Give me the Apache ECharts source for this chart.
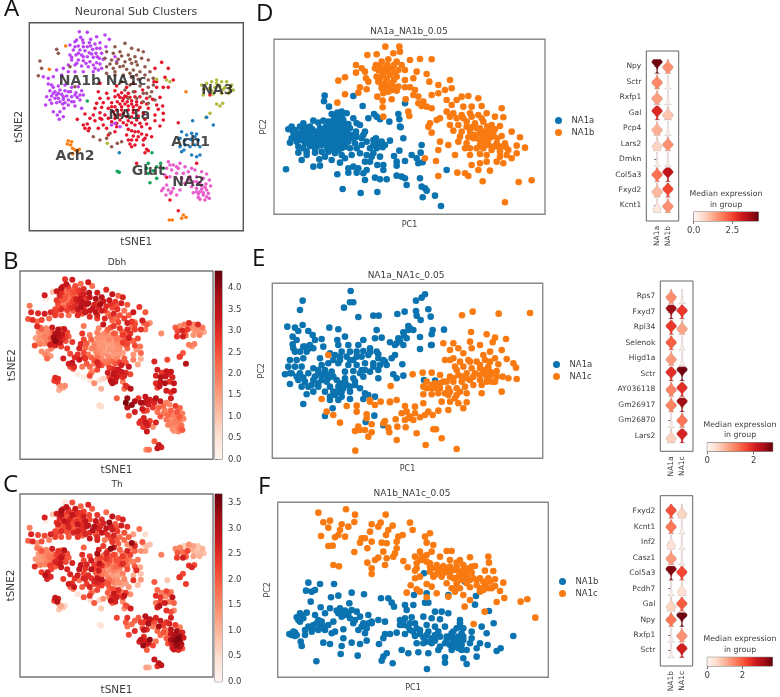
<!DOCTYPE html>
<html><head><meta charset="utf-8">
<style>html,body{margin:0;padding:0;background:#fff}#main{width:780px;height:697px;filter:blur(0.5px)}</style>
<script src="https://cdn.jsdelivr.net/npm/echarts@6/dist/echarts.min.js"></script>
</head><body><div id="main"></div>
<script>
// tSNE embedding shared by panels A, B, C: [tSNE1, tSNE2, Dbh, Th]
const na1b=[[238,95,2.9,.3],[262,97,3.2,2.1],[290,110,2.2,1.9],[315,105,3.3,2.6],[242,112,3.4,2.9],[272,118,2.6,2.8],[300,128,3.0,2.3],[328,118,2.1,2.0],[225,125,3.5,3.2],[250,128,2.4,2.5],[285,132,2.8,2.4],[210,135,3.3,2.7],[235,138,2.2,2.2],[262,140,2.5,2.9],[278,148,2.0,2.0],[300,145,3.2,2.7],[318,140,3.6,2.2],[220,150,3.0,2.6],[240,150,2.4,1.9],[255,152,2.1,2.6],[268,158,2.6,1.7],[288,160,3.4,2.3],[305,160,2.8,2.8],[210,165,2.8,2.4],[228,165,2.3,2.0],[245,165,2.0,2.7],[262,170,2.7,2.1],[280,172,3.1,2.9],[298,175,3.5,2.5],[215,180,2.5,1.8],[235,180,1.9,2.2],[250,182,2.6,2.6],[270,185,3.0,2.0],[290,188,3.6,2.4],[310,178,3.2,2.7],[345,170,2.4,2.3],[350,185,3.1,2.6],[205,195,2.6,2.2],[225,195,3.0,2.5],[245,198,2.7,2.1],[265,200,2.4,2.6],[285,205,2.9,2.2],[305,205,3.3,2.6],[190,205,3.0,2.6],[170,210,3.2,2.2],[185,225,2.2,1.6],[205,215,2.8,2.3],[225,215,2.5,2.1],[250,215,2.1,2.0],[280,215,3.0,2.4],[295,210,2.4,1.8],[145,252,3.0,1.7],[160,262,2.2,2.0],[175,258,1.8,1.5],[195,255,3.2,2.7],[215,262,3.6,2.4],[235,260,3.3,3.0],[150,272,1.6,1.3],[165,275,1.5,1.4],[180,270,1.8,1.6],[195,272,2.2,1.5],[212,275,3.7,2.3],[228,278,3.4,2.6],[245,272,2.6,2.1],[140,290,1.4,1.3],[155,288,1.7,1.2],[170,285,1.9,1.4],[185,283,1.6,1.7],[200,288,3.9,1.8],[215,290,3.5,2.5],[232,292,2.9,2.2],[250,285,2.3,2.0],[175,295,1.8,1.5],[190,298,2.0,1.6],[205,300,4.0,2.6],[222,305,3.3,2.8],[240,300,2.5,2.2],[137,315,2.6,2.5],[155,310,1.9,1.6],[170,308,1.7,1.5],[188,312,3.2,2.3],[205,315,3.1,2.0],[225,318,2.7,2.8],[180,335,1.6,2.7],[172,345,1.8,3.0],[190,350,1.5,2.6],[178,358,2.2,2.6],[160,335,1.7,2.3],[192,325,1.9,2.2],[245,325,2.8,2.6],[130,230,2.9,2.5],[160,230,2.6,2.1],[145,235,2.2,1.4],[360,380,2.5,2.3],[335,375,2.0,2.2],[345,370,3.1,2.6],
[230,120,3.1,2.7],[248,120,2.7,2.4],[268,128,2.3,2.2],[225,140,2.9,3.0],[250,140,2.2,1.8],[272,138,2.6,2.5],[290,145,3.0,2.2],[235,160,2.5,2.8],[250,170,2.1,2.2],[275,162,3.2,2.4],[292,170,3.3,2.0],[215,172,2.6,2.6],[230,190,2.4,2.1],[258,190,2.9,1.9],[280,195,3.3,2.7],[300,192,3.0,2.5],[160,280,1.6,1.3],[175,280,1.7,1.5],[190,290,2.3,1.4],[205,275,3.5,1.9],[165,295,1.5,1.2],[180,305,1.9,1.6],[195,308,3.0,2.0],[150,300,1.6,1.3],[225,285,3.2,2.9],[240,285,2.7,1.8],[215,305,3.4,2.5],[155,255,2.3,1.5]];
const na1c=[[345,140,3.2,2.4],[375,130,3.0,1.8],[395,145,3.4,2.9],[415,150,2.3,2.2],[430,155,3.1,2.6],[320,155,3.4,2.1],[340,160,3.7,2.8],[360,155,3.5,2.5],[385,165,3.3,3.3],[405,170,2.8,2.0],[425,175,3.2,2.7],[445,180,2.4,2.4],[315,175,3.6,2.9],[335,180,3.1,3.1],[355,178,3.8,2.4],[375,185,3.0,2.9],[395,190,2.6,2.7],[412,195,2.9,2.3],[435,200,2.1,2.1],[320,200,3.3,2.5],[340,205,3.5,2.1],[360,200,3.2,2.8],[380,208,2.2,2.4],[400,210,3.1,2.6],[420,215,2.5,1.8],[450,215,2.3,1.9],[320,220,3.0,2.8],[345,225,2.7,2.6],[370,225,3.0,1.7],[395,232,2.2,2.4],[415,238,2.6,2.0],[445,240,3.2,1.5],[460,235,2.8,3.3],[365,245,3.4,2.3],[390,255,2.5,3.4],[420,258,2.8,1.9],[445,262,3.0,2.6],[460,255,2.1,1.6],[375,270,1.9,2.6],[400,275,2.4,2.2],[430,280,2.8,2.3],[450,290,3.2,1.7],[465,300,2.3,1.6],[410,295,2.0,2.1],[430,305,2.7,2.5],[445,310,2.6,1.6],[385,295,1.8,2.1],[120,183,2.0,1.6],[175,160,.3,.2],[170,148,3.2,2.6],[115,227,2.4,1.9],[125,205,3.0,2.6],[225,260,2.1,1.6],[330,400,1.6,1.4],[320,415,2.6,2.4],[300,420,.3,2.0],[335,440,1.7,2.0],[352,430,.5,.6],[280,410,.3,.4],[365,425,.8,1.4],[210,200,2.7,2.2],
[365,168,3.3,2.6],[350,190,3.0,2.2],[370,198,2.8,2.4],[390,178,2.9,2.7],[408,185,2.4,2.1],[330,192,3.4,3.0],[345,215,3.1,2.5],[390,220,2.5,2.2],[410,225,2.2,2.0],[435,225,2.7,1.8],[455,275,2.9,2.2],[440,280,2.4,1.7]];
const na1a=[[485,187,2.8,1.8],[465,205,3.3,1.2],[505,205,2.4,.5],[495,232,3.2,2.0],[520,240,1.6,.8],[470,245,2.6,2.5],[300,250,2.0,1.9],[350,258,1.8,2.6],[380,262,2.3,2.2],[400,250,2.8,3.0],[295,275,2.8,2.5],[320,280,2.0,2.3],[345,272,1.9,3.2],[365,278,1.7,1.6],[385,280,1.6,2.1],[405,275,2.1,1.8],[428,270,2.3,1.5],[470,262,2.7,1.9],[490,262,2.9,1.4],[505,262,2.0,1.2],[300,295,2.6,2.2],[325,295,2.3,2.7],[345,290,1.7,2.0],[360,292,1.6,1.7],[375,288,1.5,2.4],[390,292,1.4,1.5],[405,290,1.8,1.8],[420,290,2.0,2.1],[440,295,2.5,1.9],[458,298,2.2,1.2],[480,292,2.6,1.7],[290,310,3.0,2.8],[310,308,2.4,2.6],[335,308,1.8,2.3],[352,305,1.6,2.9],[368,302,1.5,1.6],[382,305,1.5,1.9],[395,302,1.4,1.4],[410,305,1.7,1.7],[425,308,1.8,2.3],[440,312,2.4,1.8],[470,315,2.6,2.0],[488,318,2.0,1.1],[285,325,3.1,2.9],[305,322,2.2,2.4],[325,325,1.8,3.0],[345,320,1.5,2.3],[365,320,1.6,1.4],[385,318,1.4,1.3],[400,320,1.5,1.7],[420,322,1.7,1.5],[445,325,2.2,2.1],[475,328,1.6,2.5],[280,345,2.9,2.7],[300,338,2.6,2.2],[315,345,2.0,2.5],[340,335,1.7,2.0],[370,340,1.5,1.5],[400,338,1.6,1.2],[430,340,1.5,1.6],[465,345,1.6,1.0],[490,340,2.2,.8],[285,362,3.3,1.7],[305,358,2.9,2.5],[335,365,2.4,2.6],[360,360,1.7,2.9],[385,362,1.9,1.8],[410,360,1.8,1.4],[435,358,2.3,1.5],[465,362,1.9,2.4],[490,360,1.2,1.3],[380,375,2.1,2.1],[405,375,2.4,1.3],[250,375,3.2,2.7],[262,372,3.4,2.4],[255,385,2.6,1.8],[268,385,3.0,2.8],[265,392,2.5,1.5],[320,385,2.2,2.6],[350,380,3.0,2.2],[425,380,3.2,1.1],[450,385,3.4,1.3],[480,378,1.4,.9],[395,392,2.9,2.1],[415,395,3.3,2.5],[535,368,3.1,2.0],[325,405,2.0,1.9],[380,405,3.2,2.0],[400,408,3.5,2.8],[425,402,3.3,1.7],[440,405,3.0,2.3],[455,410,2.6,1.4],[410,420,3.3,2.7],[385,420,2.4,1.5],[435,415,3.1,2.9],[390,432,3.5,2.9],[405,435,3.3,2.6],[395,440,3.6,1.8],[430,435,2.0,1.5],[440,448,2.9,2.1],[435,458,2.1,1.4],[445,452,2.6,1.8],[350,370,2.3,2.4],[232,358,3.2,2.3],[255,342,2.6,2.6],[510,600,3.3,2.0],[535,632,2.3,2.8],[590,490,3.2,2.7],[500,532,2.7,2.9],[630,285,3.2,2.7],[462,245,2.0,1.2],[410,490,2.3,2.2],
[355,285,1.7,2.2],[370,295,1.5,1.8],[380,290,1.6,1.5],[395,312,1.5,1.6],[410,315,1.6,1.9],[360,312,1.6,2.5],[375,312,1.4,1.7],[350,330,1.7,2.7],[365,330,1.5,1.6],[385,330,1.6,1.4],[400,330,1.4,1.5],[415,330,1.7,1.3],[335,320,1.9,2.3],[345,345,1.8,1.9],[360,345,1.6,1.7],[380,350,1.7,1.5],[395,350,1.5,1.3],[415,348,1.6,1.2],[325,355,2.3,2.4],[345,355,2.1,2.8],[370,368,2.0,2.1],[395,368,2.2,1.6],[300,355,2.8,2.6],[270,355,3.0,2.4],[420,370,2.7,1.4],[440,372,2.5,1.2],[345,395,2.6,2.2],[395,420,3.1,2.5],[415,410,3.0,2.2],[385,388,2.7,1.9],[405,395,3.1,1.8],[430,420,2.9,2.4],[310,375,2.4,2.3],[295,385,2.0,2.0]];
const na2=[[505,485,3.4,3.0],[520,495,3.2,2.9],[540,490,3.6,2.6],[500,505,3.5,2.3],[515,510,3.2,3.1],[535,505,3.0,2.0],[555,500,3.4,2.8],[575,505,1.9,2.4],[495,525,3.3,2.0],[510,530,2.7,2.5],[530,520,2.8,1.7],[550,520,2.3,3.2],[565,515,2.2,2.3],[585,510,1.8,2.6],[605,515,2.7,2.3],[620,522,2.2,1.6],[545,535,2.1,1.9],[570,530,1.9,1.8],[590,530,2.3,2.9],[610,535,2.5,3.2],[628,540,2.0,2.6],[580,545,2.2,1.7],[600,548,1.9,3.0],[618,552,2.4,3.3],[632,558,1.8,2.7],[490,565,3.0,2.9],[505,570,3.3,2.7],[520,565,2.7,3.4],[540,570,3.1,1.7],[575,560,2.1,2.0],[590,565,1.7,3.1],[605,568,1.9,3.4],[620,570,1.6,3.2],[485,572,2.9,2.6],[498,585,2.8,3.3],[512,580,3.2,2.3],[530,585,1.7,2.2],[580,578,1.8,2.0],[595,582,1.6,2.6],[610,585,1.7,3.3],[625,580,2.1,2.9],[600,598,1.5,2.8],[615,600,1.8,2.5],[628,595,2.4,2.0],[590,545,1.8,2.8],[605,558,1.7,3.2],[615,562,2.0,3.5],[590,575,1.9,2.4],[600,575,1.6,2.9],[610,578,1.8,3.1],[595,592,1.7,2.7],[620,590,2.2,3.0],[565,540,2.0,2.1],[555,550,2.4,1.8],[500,555,3.1,2.5],[515,575,2.9,2.8],[510,495,3.3,2.4],[530,500,3.1,2.2]];
const na3=[[605,255,2.3,1.5],[620,250,1.7,1.5],[635,245,2.0,.7],[650,240,3.0,1.4],[665,245,1.8,1.2],[680,245,3.0,.8],[695,255,2.0,1.0],[700,270,1.3,.8],[612,268,2.6,2.0],[628,265,3.1,1.7],[645,262,2.8,2.2],[660,258,1.6,1.0],[675,262,1.7,.8],[690,272,1.5,.9],[610,285,2.9,2.3],[640,282,2.0,2.0],[665,280,1.6,1.2],[685,280,1.9,1.0],[650,312,2.0,2.4],[660,318,1.6,2.6],[668,310,1.9,2.1],[630,340,2.4,2.2],[618,352,1.8,2.4],[500,240,2.2,.7],[470,238,2.0,1.2],[510,245,2.4,.9],[322,430,.4,.5],[650,250,1.8,1.1],[670,268,1.4,.9],[690,262,1.6,.8],[635,272,2.6,1.8]];
const ach1=[[578,362,2.6,.8],[640,375,3.6,2.3],[545,395,3.2,1.9],[560,405,2.8,1.6],[575,400,3.3,2.2],[590,402,3.4,1.6],[540,415,3.1,2.5],[555,420,3.6,2.4],[572,418,3.4,1.4],[595,420,3.1,2.9],[540,440,3.0,1.7],[552,450,3.4,3.0],[570,440,3.7,2.7],[585,435,2.9,1.7],[600,440,3.4,1.9],[545,455,2.6,2.6],[575,465,3.2,2.4],[590,470,2.9,2.1],[620,352,2.7,2.1],[358,458,1.2,.7],[600,465,3.3,1.5],[555,435,3.3,2.2],[585,410,3.0,1.8]];
const ach2=[[205,422,3.0,2.8],[215,425,2.9,2.6],[202,432,2.7,2.3],[212,435,2.8,3.0],[218,445,1.5,1.0],[225,450,1.7,1.1],[232,455,1.4,.7],[218,462,1.3,.8],[238,448,1.7,.5],[550,645,3.3,2.9],[558,652,3.1,2.9],[545,655,3.4,2.4],[508,660,1.8,1.2],[517,660,2.1,1.0],[197,138,1.0,.8],[148,208,3.0,2.2],[558,275,1.7,1.6]];
const glut=[[445,490,3.9,2.4],[470,500,3.6,1.9],[490,505,3.8,2.3],[445,520,3.7,1.7],[470,535,3.2,2.5],[358,517,.6,.4],[262,303,2.8,2.6],[456,458,3.6,2.7],[450,548,2.4,2.2],[440,505,4.2,2.0],[460,512,4.0,1.8],[352,514,.6,.2],[482,490,2.8,2.0]];
const clusterColors={NA1a:'#e7152b',NA1b:'#bb44f5',NA1c:'#8f5a4c',NA2:'#e85ecb',NA3:'#b2ba3f',Ach1:'#1f7fc0',Ach2:'#fb7d12',Glut:'#13a35c'};
const clusters={NA1a:na1a,NA1b:na1b,NA1c:na1c,NA2:na2,NA3:na3,Ach1:ach1,Ach2:ach2,Glut:glut};
const clusterLabels=[['NA1b',240,245],['NA1c',378,243],['NA1a',388,345],['NA3',652,272],['Ach1',572,427],['Ach2',225,470],['Glut',445,513],['NA2',565,547]];

// PCA panels
const dBlue=[[224,287],[222,304],[310,288],[237,320],[262,338],[275,335],[290,340],[245,342],[338,318],[372,342],[380,350],[390,358],[355,355],[310,355],[320,370],[265,352],[250,360],[270,362],[285,372],[235,365],[220,362],[205,368],[190,362],[160,370],[150,380],[125,380],[115,388],[130,398],[165,382],[180,380],[210,385],[228,380],[250,378],[265,382],[285,390],[300,385],[330,375],[318,395],[345,395],[418,365],[448,358],[452,382],[460,415],[420,422],[378,415],[395,425],[405,435],[385,432],[370,420],[350,425],[335,415],[320,410],[305,405],[285,410],[270,405],[255,400],[240,395],[225,400],[210,402],[195,395],[180,400],[165,405],[150,400],[125,415],[120,428],[140,425],[155,420],[170,420],[190,415],[205,420],[225,418],[245,415],[262,420],[280,428],[295,425],[315,430],[335,435],[145,440],[160,445],[180,438],[200,440],[215,435],[235,435],[255,440],[275,445],[300,445],[320,445],[360,445],[380,445],[145,458],[170,455],[195,458],[215,455],[235,455],[255,460],[275,465],[330,460],[350,465],[370,460],[390,470],[155,480],[208,478],[225,470],[245,480],[270,488],[285,475],[345,485],[360,485],[382,495],[400,495],[432,468],[448,452],[485,465],[515,435],[512,458],[500,475],[518,487],[505,490],[465,483],[440,485],[440,497],[108,508],[190,500],[210,497],[262,523],[295,505],[310,500],[325,505],[295,518],[320,518],[340,520],[350,510],[400,510],[345,540],[375,533],[390,538],[410,538],[440,527],[455,530],[465,535],[510,535],[470,555],[515,560],[525,565],[530,572],[518,592],[555,587],[573,618],[278,567],[332,579],[382,576],[590,510],[450,380],[465,310],[445,342],[240,410],[258,385],[272,395],[250,430],[232,445],[265,432],[215,410],[175,430],[198,430],[262,370],[275,350],[255,372],[268,415],
[135,390],[145,410],[160,392],[172,392],[187,388],[200,408],[218,392],[232,388],[243,372],[258,350],[268,345],[280,360],[250,388],[262,395],[278,400],[240,425],[252,408],[265,408],[283,418],[298,410],[180,410],[165,430],[190,425],[212,425],[225,430],[240,445],[265,450],[195,445],[170,465],[250,450],[285,440],[310,415],[340,405],[305,465],[365,470],[370,435],[398,442],[158,410],[138,408],[215,390],[228,408],[248,398],[275,415],[292,398],[262,378],[278,378],[295,372]];
const dOrange=[[406,140],[448,140],[352,165],[380,163],[430,160],[450,155],[318,195],[335,205],[345,215],[318,218],[348,235],[285,232],[265,242],[355,245],[480,180],[510,177],[545,178],[378,195],[395,185],[415,178],[440,185],[455,195],[465,210],[385,210],[405,205],[425,205],[445,210],[500,215],[530,222],[490,235],[465,240],[380,230],[400,225],[420,225],[440,230],[465,262],[385,245],[405,250],[425,250],[445,260],[538,245],[600,240],[565,255],[330,262],[350,268],[325,278],[395,265],[425,270],[440,272],[480,262],[495,270],[285,283],[262,308],[382,290],[400,280],[415,275],[490,285],[505,290],[520,305],[545,285],[565,280],[585,270],[605,265],[398,302],[425,298],[467,298],[505,310],[530,320],[545,325],[398,322],[475,335],[478,348],[400,350],[515,318],[560,360],[540,370],[535,380],[545,398],[570,355],[635,290],[655,288],[685,295],[620,300],[605,315],[640,320],[665,320],[695,318],[755,325],[590,335],[610,340],[635,345],[660,340],[685,345],[710,340],[735,350],[760,352],[600,375],[625,375],[650,365],[675,370],[700,365],[725,375],[750,378],[785,395],[610,392],[635,395],[660,395],[680,385],[705,395],[730,400],[755,408],[810,412],[570,425],[595,435],[625,425],[650,430],[670,415],[690,420],[715,420],[740,430],[765,430],[800,437],[825,443],[565,450],[615,465],[660,465],[680,445],[700,445],[725,450],[750,455],[775,450],[800,460],[785,475],[525,475],[558,483],[665,495],[690,490],[710,485],[740,485],[760,490],[685,510],[720,512],[565,528],[622,518],[645,520],[655,528],[698,544],[806,546],[845,541],[765,607],[700,405],[715,405],[690,400],[675,405],[720,390],[745,440],[705,430],[690,435],
[375,205],[392,200],[412,195],[432,195],[395,215],[415,215],[435,218],[390,235],[410,238],[432,240],[395,255],[415,260],[435,262],[408,268],[650,380],[665,382],[690,385],[712,380],[735,388],[665,405],[680,415],[700,415],[725,410],[742,415],[655,412],[715,435],[730,440],[750,440],[768,442],[690,462],[710,465],[750,470],[770,465],[640,355],[665,350],[695,355],[620,355],[630,410],[600,350],[645,445],[660,445],[590,300]];
const eBlue=[[302,138],[158,167],[150,195],[310,172],[300,172],[282,188],[525,148],[515,158],[498,167],[325,216],[370,212],[386,212],[442,207],[464,200],[498,198],[500,212],[512,225],[535,193],[542,215],[112,245],[158,240],[135,248],[145,258],[175,258],[188,270],[238,248],[265,253],[380,255],[475,243],[490,255],[582,254],[548,255],[545,268],[128,275],[140,285],[195,285],[215,282],[285,275],[262,285],[340,285],[375,280],[395,278],[460,262],[445,280],[470,280],[510,276],[128,298],[160,305],[180,300],[190,310],[265,300],[295,300],[325,300],[420,292],[440,295],[460,300],[545,300],[510,312],[135,320],[150,320],[170,320],[220,305],[240,325],[275,320],[300,320],[320,320],[360,310],[380,320],[435,330],[120,345],[140,345],[160,340],[210,340],[250,345],[270,335],[290,335],[310,345],[335,335],[355,330],[385,340],[400,345],[425,340],[115,365],[135,365],[155,365],[190,370],[215,360],[235,355],[265,355],[295,360],[320,360],[345,355],[370,355],[410,360],[457,358],[105,388],[125,385],[150,385],[175,385],[205,385],[225,375],[245,380],[285,380],[310,378],[335,375],[360,380],[385,375],[430,388],[460,392],[120,417],[145,405],[165,410],[190,405],[215,405],[235,400],[260,405],[285,400],[310,400],[340,395],[385,400],[440,400],[155,425],[175,425],[205,425],[240,425],[265,425],[290,420],[315,420],[170,448],[190,440],[225,440],[250,440],[275,440],[300,440],[330,430],[345,445],[160,477],[240,465],[265,465],[300,462],[340,462],[375,455],[248,490],[225,513],[347,531],[373,512],[400,541],[522,405],[555,407],[543,300],[355,450],
[205,375],[220,388],[195,395],[235,390],[250,395],[270,415],[280,430],[265,440],[240,455],[255,450],[275,455],[230,410],[205,415],[185,420],[160,398],[140,395],[120,385],[330,385],[345,375],[370,365],[390,360],[405,350],[385,328],[360,322],[340,318],[320,335],[300,345],[270,345],[255,330],[165,305],[175,312],[130,310],[475,255],[462,272],[450,288],[435,300],[480,250],[285,410],[300,425],[315,410],[215,395]];
const eOrange=[[840,204],[746,206],[668,200],[636,211],[663,261],[710,268],[735,278],[768,282],[728,292],[580,295],[610,295],[660,290],[690,300],[600,315],[625,310],[640,325],[665,310],[755,315],[720,320],[700,330],[585,345],[610,340],[630,350],[655,345],[680,350],[705,345],[735,340],[770,342],[745,358],[790,355],[798,368],[615,365],[640,365],[665,370],[690,370],[715,365],[740,378],[488,388],[518,383],[545,383],[570,390],[600,395],[625,390],[650,385],[675,385],[700,385],[720,392],[740,395],[758,395],[775,400],[800,402],[530,410],[555,415],[580,410],[610,410],[635,410],[660,405],[690,405],[710,410],[735,410],[422,423],[520,425],[545,430],[570,430],[595,430],[620,430],[645,425],[670,420],[695,420],[755,440],[520,448],[545,448],[565,445],[595,450],[620,450],[650,445],[695,445],[520,475],[600,470],[625,475],[650,472],[575,470],[360,465],[215,462],[392,470],[420,472],[440,465],[465,483],[495,485],[320,482],[290,483],[375,480],[360,470],[230,500],[250,510],[350,508],[320,500],[455,505],[495,505],[535,500],[565,497],[595,495],[640,490],[525,510],[548,510],[475,520],[510,517],[270,533],[405,528],[437,523],[465,525],[325,545],[345,555],[365,538],[315,558],[330,555],[415,548],[442,545],[467,547],[365,562],[355,575],[418,562],[500,565],[550,553],[558,553],[575,580],[440,585],[527,600],[620,612],[316,617],[235,330],[400,535],
[690,360],[705,375],[720,380],[735,385],[710,395],[725,410],[690,390],[670,395],[650,400],[635,395],[610,400],[590,410],[570,415],[545,420],[530,430],[560,430],[585,445],[600,440],[615,460],[630,440],[660,350],[620,375],[600,345],[720,350],[470,500],[480,515],[490,525],[350,520],[420,470]];
const fBlue=[[175,308],[210,312],[252,312],[168,332],[185,335],[195,330],[182,365],[243,352],[265,347],[305,338],[342,343],[393,355],[415,355],[425,368],[432,380],[492,345],[298,370],[212,382],[240,385],[270,385],[465,375],[490,375],[525,368],[535,368],[150,400],[170,398],[195,405],[225,400],[265,400],[285,392],[305,390],[320,395],[470,390],[555,395],[575,395],[595,400],[140,412],[160,415],[205,420],[250,425],[275,410],[300,415],[330,410],[355,405],[385,420],[405,425],[450,420],[465,415],[485,412],[520,410],[545,415],[570,418],[630,420],[675,374],[717,393],[150,425],[190,435],[215,435],[235,435],[310,430],[340,430],[365,425],[460,435],[495,430],[530,435],[555,440],[585,440],[630,440],[695,440],[731,430],[165,450],[185,455],[205,450],[225,450],[280,448],[325,450],[350,445],[480,450],[510,450],[535,455],[565,455],[610,455],[635,460],[665,455],[710,460],[118,462],[135,458],[165,465],[245,460],[255,455],[345,460],[405,462],[420,462],[440,458],[465,462],[495,468],[520,472],[545,475],[590,470],[615,475],[640,480],[665,475],[790,468],[125,465],[135,468],[220,488],[240,492],[350,482],[400,475],[530,485],[555,482],[585,490],[610,490],[635,495],[660,490],[690,490],[152,485],[155,498],[280,475],[305,488],[330,492],[387,492],[500,490],[713,495],[275,498],[455,510],[475,520],[505,517],[535,520],[565,510],[605,510],[635,510],[650,510],[680,505],[740,513],[752,505],[272,522],[323,527],[410,520],[400,530],[585,532],[585,548],[640,535],[680,530],[199,544],[395,542],[428,550],[650,552],[531,567],[522,280],[645,305],[678,348],[595,345],[530,340],[365,430],
[590,480],[600,470],[610,480],[620,488],[625,470],[630,480],[640,470],[600,495],[615,500],[625,505],[605,460],[620,445],[630,430],[640,445],[570,470],[555,465],[530,465],[510,462],[490,455],[475,440],[460,425],[450,435],[480,430],[500,445],[200,430],[215,425],[225,440],[210,445],[190,445],[175,440],[155,405],[145,420],[130,455],[140,465],[295,400],[315,420],[275,395],[260,392],[285,405],[335,440],[355,430],[545,490],[570,500],[520,490]];
const fOrange=[[205,98],[288,88],[315,104],[407,104],[240,122],[220,127],[313,126],[235,143],[275,133],[270,150],[295,140],[365,133],[392,128],[480,128],[488,150],[360,155],[385,140],[428,137],[415,150],[213,168],[255,172],[265,165],[285,170],[335,175],[345,175],[408,165],[445,170],[458,165],[540,160],[525,170],[235,198],[248,197],[330,188],[365,185],[395,188],[410,190],[440,185],[530,188],[550,195],[352,205],[440,205],[313,216],[400,215],[435,220],[510,215],[545,215],[590,213],[605,213],[385,233],[410,235],[430,230],[495,230],[515,230],[530,225],[570,230],[630,240],[660,232],[715,230],[352,248],[375,240],[405,255],[460,243],[500,250],[530,245],[600,240],[620,248],[640,255],[250,255],[267,259],[717,248],[365,265],[473,262],[540,260],[560,255],[580,258],[600,260],[675,258],[495,272],[365,282],[540,275],[565,275],[590,275],[615,270],[640,270],[665,278],[705,272],[730,273],[495,295],[510,290],[550,290],[575,290],[600,290],[625,290],[650,290],[690,295],[715,295],[735,298],[760,308],[482,316],[530,312],[590,310],[620,310],[650,310],[680,315],[705,315],[735,318],[500,328],[545,320],[605,325],[630,325],[660,322],[690,325],[715,325],[470,338],[510,335],[560,340],[615,335],[640,345],[690,335],[750,333],[530,352],[595,350],[660,360],[763,354],[740,366],[812,365],[832,358],[644,380],[704,395],[856,413],[671,432],
[545,265],[560,265],[575,265],[590,265],[605,270],[620,260],[630,275],[645,280],[655,265],[600,280],[580,280],[555,285],[540,250],[520,240],[510,240],[500,265],[615,295],[635,300],[660,300],[670,295],[680,300],[700,305],[720,305],[725,325],[700,330],[610,295],[630,280],[650,270],[665,260],[640,290],[620,320]];

// Stacked violin panels: median expression per gene and group
const genesD=['Npy','Sctr','Rxfp1','Gal','Pcp4','Lars2','Dmkn','Col5a3','Fxyd2','Kcnt1'];
const groupsD=['NA1a','NA1b'];
const medD=[[4.15,1.6],[1.7,.03],[1.4,.03],[2.9,.9],[1.2,.03],[.7,1.6],[.03,.1],[2.0,3.3],[1.1,2.5],[.35,1.6]];
const genesE=['Rps7','Fxyd7','Rpl34','Selenok','Higd1a','Sctr','AY036118','Gm26917','Gm26870','Lars2'];
const groupsE=['NA1a','NA1c'];
const medE=[[1.1,.08],[2.5,1.8],[1.8,.9],[1.5,.06],[1.0,.05],[1.9,2.75],[1.2,1.9],[1.2,2.5],[.05,1.3],[.5,2.0]];
const genesF=['Fxyd2','Kcnt1','Inf2','Casz1','Col5a3','Pcdh7','Gal','Npy','Rxfp1','Sctr'];
const groupsF=['NA1b','NA1c'];
const medF=[[2.1,.6],[1.7,.08],[.4,.07],[1.3,.1],[3.5,2.2],[.04,.45],[.6,2.0],[1.7,3.65],[.04,1.4],[.04,2.7]];
const reds=['#fff5f0','#fee0d2','#fcbba1','#fc9272','#fb6a4a','#ef3b2c','#cb181d','#a50f15','#67000d'];
const maxDbh=4.4,maxTh=3.68,maxD=4.18,maxE=2.82,maxF=3.7;
const dbhTicks=[0,.5,1,1.5,2,2.5,3,3.5,4],thTicks=[0,.5,1,1.5,2,2.5,3,3.5];
const dTicks=[0,2.5],eTicks=[0,2],fTicks=[0,2];

const FONT='DejaVu Sans',TXT='#3c3c3c';
const blue='#0a73b0',orange='#f97a10';
const grids=[],xAxes=[],yAxes=[],series=[],titles=[],legends=[],vms=[];
function text(t,x,y,size,opt){titles.push(Object.assign({text:t,left:x,top:y,textAlign:'center',textVerticalAlign:'middle',padding:0,textStyle:Object.assign({fontFamily:FONT,fontSize:size,fontWeight:'normal',color:TXT,lineHeight:size+2.5},opt||{})}));}
function letter(t,x,y){titles.push({text:t,left:x,top:y,padding:0,textStyle:{fontFamily:'Open Sans',fontSize:24,fontWeight:'normal',color:'#111'}});}
function addPanel(l,t,r,b,xr,yr,xn,yn,xGap,yGap,bc,fs){
  grids.push({left:l,top:t,width:r-l,height:b-t,show:true,borderColor:bc,borderWidth:1.4,backgroundColor:'#fff',containLabel:false});
  const hid={axisLine:{show:false},axisTick:{show:false},axisLabel:{show:false},splitLine:{show:false}};
  const ns={fontFamily:FONT,fontSize:fs,color:TXT};
  xAxes.push(Object.assign({type:'value',gridIndex:grids.length-1,min:xr[0],max:xr[1],name:xn,nameLocation:'middle',nameGap:xGap,nameTextStyle:ns},hid));
  yAxes.push(Object.assign({type:'value',gridIndex:grids.length-1,min:yr[0],max:yr[1],inverse:true,name:yn,nameLocation:'middle',nameGap:yGap,nameTextStyle:ns},hid));
  return grids.length-1;
}
function scat(g,name,data,color,size){series.push({type:'scatter',name:name,xAxisIndex:g,yAxisIndex:g,data:data,symbolSize:size,itemStyle:color?{color:color,opacity:1}:{opacity:1},silent:true,animation:false,progressive:0});}

// Panel A
const pA=addPanel(29.3,22.7,243.3,230.7,[88,730],[68,692],'tSNE1','tSNE2',6,5,'#555',10.5);
for(const k in clusters)scat(pA,k,clusters[k].map(c=>[c[0],c[1]]),clusterColors[k],3.6);
series.push({type:'scatter',xAxisIndex:pA,yAxisIndex:pA,symbolSize:0,silent:true,animation:false,data:clusterLabels.map(c=>({name:c[0],value:[c[1],c[2]]})),
  label:{show:true,position:'inside',formatter:p=>p.name,fontFamily:FONT,fontWeight:'bold',fontSize:14,color:'#1c1c1c'},z:5});
text('Neuronal Sub Clusters',136,12,11);

// Panels B, C
const allCells=[].concat(na1a,na1b,na1c,na2,na3,ach1,ach2,glut);
function expr(l,t,r,b,idx,max,ticks,title,titleY,xGap,yGap){
  const g=addPanel(l,t,r,b,[88,730],[68,692],'tSNE1','tSNE2',xGap,yGap,'#777',10.5);
  const data=allCells.map(c=>[c[0],c[1],c[idx]]).sort((a,b)=>a[2]-b[2]);
  vms.push({show:false,type:'continuous',seriesIndex:series.length,dimension:2,min:0,max:max,inRange:{color:reds}});
  scat(g,title,data,null,6);
  text(title,117,titleY,9);
  // colour bar
  grids.push({left:215,top:t,width:7,height:b-t,show:true,borderColor:'#444',borderWidth:.8});
  const c=grids.length-1;
  xAxes.push({type:'value',gridIndex:c,min:0,max:1,show:false});
  yAxes.push({type:'value',gridIndex:c,min:0,max:max,position:'right',axisLine:{show:false},splitLine:{show:false},
    axisTick:{length:3,lineStyle:{color:'#555',width:.8},customValues:ticks},axisLabel:{margin:6,fontFamily:FONT,fontSize:8.5,color:TXT,customValues:ticks,formatter:v=>v.toFixed(1)}});
  colorbar(c,[[0,0,1,max]],'v');
}
function colorbar(c,data,dir){
  series.push({type:'custom',xAxisIndex:c,yAxisIndex:c,silent:true,animation:false,data:data,encode:{x:[0,2],y:[1,3]},
    renderItem:(p,api)=>{const a=api.coord([api.value(0),api.value(1)]),b=api.coord([api.value(2),api.value(3)]);
      const x=Math.min(a[0],b[0]),y=Math.min(a[1],b[1]),w=Math.abs(a[0]-b[0]),h=Math.abs(a[1]-b[1]);
      const stops=reds.map((col,i)=>({offset:i/(reds.length-1),color:col}));
      const grad=dir==='v'?new echarts.graphic.LinearGradient(0,1,0,0,stops):new echarts.graphic.LinearGradient(0,0,1,0,stops);
      return {type:'rect',shape:{x,y,width:w,height:h},style:{fill:grad}};}});
}
expr(20,271,213,459.3,2,maxDbh,dbhTicks,'Dbh',263,5,2);
expr(20,494,213,681.7,3,maxTh,thTicks,'Th',485,8,3);

// Panels D, E, F
function pca(l,t,r,b,xr,yr,a,an,c,cn,title,tx,ty,lx,ly,xGap,yGap){
  const g=addPanel(l,t,r,b,xr,yr,'PC1','PC2',xGap,yGap,'#888',8);
  scat(g,an,a,blue,6.6);scat(g,cn,c,orange,6.6);
  text(title,tx,ty,9);
  legends.push({show:true,orient:'vertical',left:lx,top:ly,itemWidth:8,itemHeight:7,itemGap:3,icon:'circle',selectedMode:false,padding:0,
    data:[{name:an,itemStyle:{color:blue}},{name:cn,itemStyle:{color:orange}}],textStyle:{fontFamily:FONT,fontSize:8.5,color:TXT,padding:[0,0,0,4]}});
}
pca(274,39.3,545,214.3,[72,885],[118,643],dBlue,'NA1a',dOrange,'NA1b','NA1a_NA1b_0.05',409,32,555,116,7,6);
pca(272.3,283.3,542.7,458.3,[67,878],[115,640],eBlue,'NA1a',eOrange,'NA1c','NA1a_NA1c_0.05',406,276,553,360,7,6);
pca(277.7,502.3,548.3,677.3,[83,895],[67,592],fBlue,'NA1b',fOrange,'NA1c','NA1b_NA1c_0.05',412,494,559,577,7,6);

// Stacked violins
function violin(l,t,w,h,genes,groups,med,max,cl,cr,ct,cb,ticks,cbFmt,titleX,titleY){
  grids.push({left:l,top:t,width:w,height:h,show:true,borderColor:'#666',borderWidth:1});
  const g=grids.length-1;
  const rowTicks=genes.map((_,i)=>i);
  xAxes.push({type:'value',gridIndex:g,min:-1,max:2,axisLine:{show:false},splitLine:{show:false},
    axisTick:{length:3,lineStyle:{color:'#555',width:.8},customValues:[0,1]},
    axisLabel:{rotate:90,margin:5,fontFamily:FONT,fontSize:7.5,color:TXT,customValues:[0,1],formatter:v=>groups[v]}});
  yAxes.push({type:'value',gridIndex:g,min:-1,max:10,inverse:true,axisLine:{show:false},splitLine:{show:false},
    axisTick:{length:3,lineStyle:{color:'#555',width:.8},customValues:rowTicks},
    axisLabel:{margin:5,fontFamily:FONT,fontSize:7.5,color:TXT,customValues:rowTicks,formatter:v=>genes[v]}});
  const data=[];med.forEach((r,i)=>r.forEach((m,j)=>data.push([j,i,m])));
  const cmap=m=>{const f=Math.min(m/max,1)*(reds.length-1),i=Math.min(Math.floor(f),reds.length-2),t=f-i;
    const p=s=>parseInt(s,16),a=reds[i],b=reds[i+1];
    const ch=k=>Math.round(p(a.substr(k,2))*(1-t)+p(b.substr(k,2))*t);return `rgb(${ch(1)},${ch(3)},${ch(5)})`;};
  series.push({type:'custom',xAxisIndex:g,yAxisIndex:g,silent:true,animation:false,data:data,encode:{x:0,y:1},
    renderItem:(p,api)=>{
      const m=api.value(2),c=api.coord([api.value(0),api.value(1)]),step=h/11,H=step*.92;
      const strong=m/max>.06,cen=.2+.62*Math.min(m/max,1),A=strong?Math.min(4.9,2.2+m/max*14):.5,S=strong?.27:.3,B=strong?2.2:2.6;
      const left=[],right=[];
      for(let k=0;k<=18;k++){const u=k/18,wd=A*Math.exp(-Math.pow((u-cen)/S,2))+B*Math.exp(-u/.05)+.5;
        const y=c[1]+H/2-u*H;left.push([c[0]-wd,y]);right.unshift([c[0]+wd,y]);}
      return {type:'polygon',shape:{points:left.concat(right)},style:{fill:cmap(m),stroke:'rgba(150,140,140,0.45)',lineWidth:.6}};}});
  // colour bar
  grids.push({left:cl,top:ct,width:cr-cl,height:cb-ct,show:true,borderColor:'#444',borderWidth:.8});
  const c=grids.length-1;
  xAxes.push({type:'value',gridIndex:c,min:0,max:max,axisLine:{show:false},splitLine:{show:false},
    axisTick:{length:3,lineStyle:{color:'#555',width:.8},customValues:ticks},
    axisLabel:{margin:5,fontFamily:FONT,fontSize:8.5,color:TXT,customValues:ticks,formatter:cbFmt}});
  yAxes.push({type:'value',gridIndex:c,min:0,max:1,show:false});
  colorbar(c,[[0,0,max,1]],'h');
  text('Median expression\nin group',titleX,titleY,7.8);
}
violin(646.3,51,32.4,170,genesD,groupsD,medD,maxD,693.7,758.3,212,221,dTicks,v=>v.toFixed(1),726,199.5);
violin(660.3,281,32.7,170.3,genesE,groupsE,medE,maxE,707.3,772.7,442.7,451.3,eTicks,v=>String(v),740,430);
violin(660.3,495.7,32.4,170.3,genesF,groupsF,medF,maxF,707.3,772.4,657.3,666,fTicks,v=>String(v),740,644.5);

letter('A',4,-3);letter('B',3,250);letter('C',3,473);letter('D',256,2);letter('E',252,247);letter('F',258,475);

const chart=echarts.init(document.getElementById('main'),null,{renderer:'canvas'});
chart.setOption({animation:false,backgroundColor:'#fff',title:titles,grid:grids,xAxis:xAxes,yAxis:yAxes,series:series,visualMap:vms,legend:legends,tooltip:{show:false}});
</script></body></html>
